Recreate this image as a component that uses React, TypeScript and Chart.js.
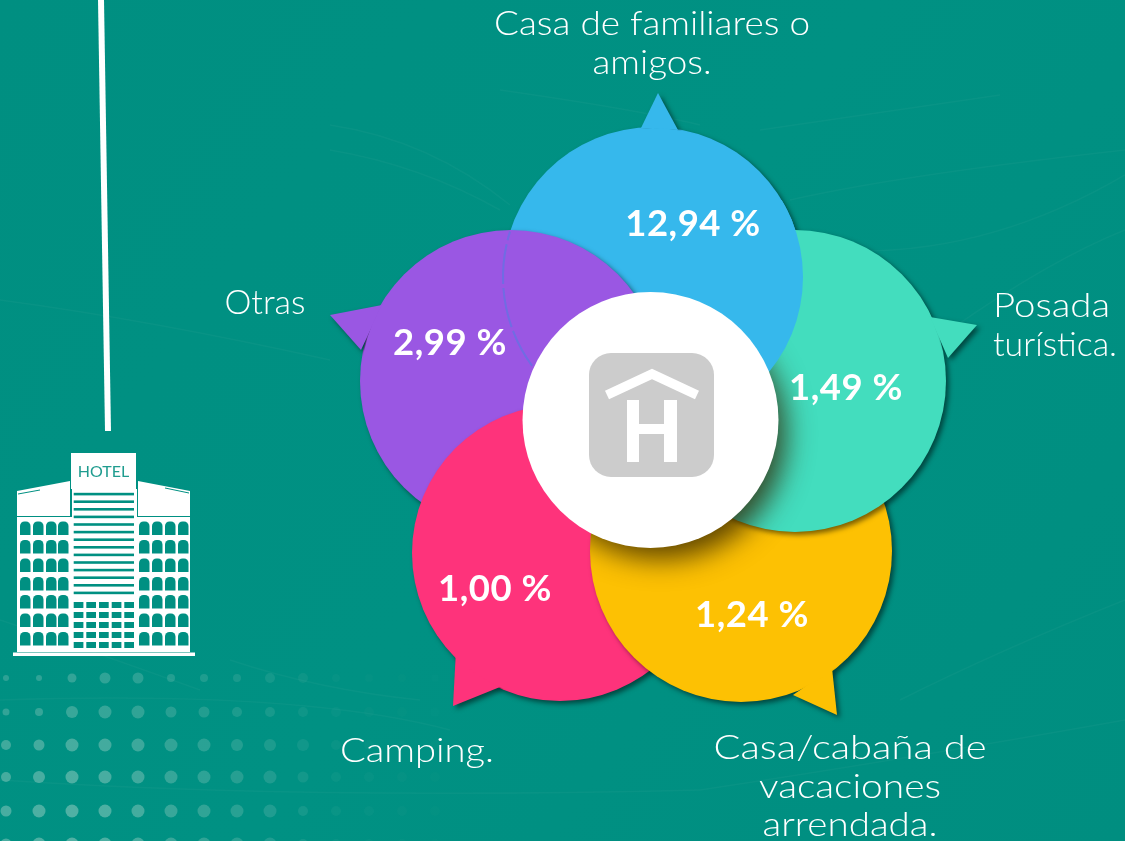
import React, { useEffect, useRef } from "react";
import Chart from "chart.js/auto";

// ---- data ----
const categories = ["Casa de familiares o amigos.", "Posada turística.", "Casa/cabaña de vacaciones arrendada.", "Camping.", "Otras"];
const values = [12.94, 1.49, 1.24, 1.0, 2.99];

// ---- layout of the petals, in scale units ----
const petalX = [653, 795, 741, 560, 511];
const petalY = [277, 381, 551, 553, 381];
const petalR = [150, 151, 151, 148, 151];
const petalColors = ["#36B8EC", "#43DDBE", "#FDC103", "#FE337B", "#9A57E3"];
const petalOrder = [5, 1, 2, 3, 4];
const tailPoints = [
  [[641, 128], [658, 93], [678, 130]],
  [[930, 317], [977, 325], [948, 358]],
  [[793, 695], [837, 715], [832, 668]],
  [[456, 650], [453, 706], [500, 687]],
  [[382, 305], [330, 315], [361, 350]],
];
const valueLabelX = [693, 846, 752, 495, 450];
const valueLabelY = [224, 388, 615, 589, 343];
const nameLines = [
  ["Casa de familiares o", "amigos."],
  ["Posada", "turística."],
  ["Casa/cabaña de", "vacaciones", "arrendada."],
  ["Camping."],
  ["Otras"],
];
const nameLineWidths = [[316, 119], [117, 124], [273, 182, 175], [154], [81]];
const nameX = [652, 993, 850, 417, 265];
const nameY = [35, 317, 759, 762, 314];
const nameAlign = ["center", "left", "center", "center", "center"];
const hubX = 650.5, hubY = 420, hubR = 128;

const dotRadius = [
  [3, 3, 4.5, 5.5, 5.5, 4, 4, 4, 5, 5, 4, 4, 4, 4],
  [3.5, 4, 6, 6.5, 6.5, 5.5, 5.5, 5, 5, 5, 5, 5, 5, 5],
  [5, 5.5, 6.5, 6.5, 6.5, 6.5, 6.5, 6, 6, 6, 5, 5, 5, 5],
  [5, 6, 6.5, 6.5, 6.5, 6.5, 6.5, 6.5, 6.5, 5.5, 5, 5, 5, 5],
  [5.5, 6.5, 6.5, 6.5, 6.5, 6.5, 6.5, 6.5, 6.5, 5, 5, 5, 5, 5],
  [5.5, 6.5, 6.5, 6.5, 6.5, 6.5, 6.5, 6.5, 6.5, 5, 5, 5, 5, 5],
];
const dotRowAlpha = [0.25, 0.28, 0.35, 0.38, 0.4, 0.4];
const dotColFade = [0.9, 0.95, 1, 0.95, 0.85, 0.7, 0.6, 0.5, 0.4, 0.25, 0.12, 0.08, 0.06, 0.04];
const dotRowY = [678, 712, 745, 777, 811, 844];

const BG = "#009082";
const NAME_FONT = '300 33px Lato, "Open Sans", sans-serif';
const VALUE_FONT = '700 36.5px Lato, "Open Sans", sans-serif';

function drawBackground(ctx: CanvasRenderingContext2D, w: number, h: number) {
  ctx.save();
  const g = ctx.createLinearGradient(0, 0, w, h);
  g.addColorStop(0, "#008F81");
  g.addColorStop(0.5, "#009183");
  g.addColorStop(1, "#008E80");
  ctx.fillStyle = g;
  ctx.fillRect(0, 0, w, h);
  // faint streaks
  ctx.strokeStyle = "rgba(255,255,255,0.03)";
  ctx.lineWidth = 1.5;
  const streaks = [
    [330, 125, 430, 140, 510, 205], [330, 150, 420, 165, 500, 210], [500, 90, 640, 110, 700, 125],
    [760, 130, 900, 110, 1000, 95], [790, 200, 900, 175, 1125, 150], [830, 250, 980, 260, 1125, 175],
    [950, 330, 1050, 260, 1125, 230], [0, 300, 150, 320, 330, 360], [0, 700, 300, 690, 450, 730],
    [0, 780, 300, 800, 700, 790], [230, 660, 320, 690, 420, 700], [700, 790, 900, 760, 1125, 720],
    [0, 620, 60, 640, 200, 690], [900, 700, 1000, 650, 1125, 600],
  ];
  streaks.forEach(([a, b, c, d, e, f]) => {
    ctx.beginPath();
    ctx.moveTo(a, b);
    ctx.quadraticCurveTo(c, d, e, f);
    ctx.stroke();
  });
  // dot texture, lower left
  dotRowY.forEach((y, row) => {
    dotColFade.forEach((fade, col) => {
      const x = 6 + col * 33;
      ctx.fillStyle = `rgba(200,225,215,${(dotRowAlpha[row] * fade).toFixed(3)})`;
      ctx.beginPath();
      ctx.arc(x, y, dotRadius[row][col], 0, Math.PI * 2);
      ctx.fill();
    });
  });
  ctx.restore();
}

function drawHotel(ctx: CanvasRenderingContext2D) {
  ctx.save();
  // hanging line
  ctx.strokeStyle = "#FFFFFF";
  ctx.lineWidth = 6;
  ctx.beginPath();
  ctx.moveTo(101, 0);
  ctx.lineTo(108, 431);
  ctx.stroke();

  ctx.fillStyle = "#FFFFFF";
  ctx.fillRect(71, 453, 65, 36);
  ctx.fillRect(72, 489, 65, 115);
  ctx.beginPath();
  ctx.moveTo(17, 491); ctx.lineTo(70, 481); ctx.lineTo(70, 516); ctx.lineTo(17, 516);
  ctx.closePath(); ctx.fill();
  ctx.beginPath();
  ctx.moveTo(138, 481); ctx.lineTo(190, 491); ctx.lineTo(190, 516); ctx.lineTo(138, 516);
  ctx.closePath(); ctx.fill();
  ctx.fillRect(17, 517, 173, 135);
  ctx.fillRect(13, 652.5, 182, 3.5);

  ctx.fillStyle = BG;
  // arched windows
  const colsL = [20, 33, 46, 58];
  const colsR = [139, 152, 165, 178];
  const rows = [521.5, 540, 558.5, 577, 595, 613.5, 632];
  [...colsL, ...colsR].forEach((x) => rows.forEach((y) => {
    ctx.beginPath();
    ctx.roundRect(x, y, 10.5, 13.5, [4.5, 4.5, 0, 0]);
    ctx.fill();
  }));
  // stripes
  for (let i = 0; i < 14; i++) ctx.fillRect(73.7, 492.8 + i * 7.6, 60.3, 2.6);
  // lower grid
  [73.7, 86.3, 99, 111.7, 124.3].forEach((x) => [602, 612, 622, 632, 642].forEach((y) => ctx.fillRect(x, y, 9.7, 6)));
  // roof lines
  ctx.strokeStyle = BG;
  ctx.lineWidth = 1;
  ctx.beginPath(); ctx.moveTo(18, 494); ctx.lineTo(40, 490); ctx.stroke();
  ctx.beginPath(); ctx.moveTo(165, 488); ctx.lineTo(189, 493); ctx.stroke();
  // sign
  ctx.fillStyle = "#1F9C8F";
  ctx.font = '400 16px Lato, sans-serif';
  ctx.textAlign = "center";
  ctx.textBaseline = "alphabetic";
  ctx.fillText("HOTEL", 103.5, 477);
  ctx.restore();
}

function drawHubIcon(ctx: CanvasRenderingContext2D) {
  ctx.save();
  ctx.fillStyle = "#CCCCCC";
  ctx.beginPath();
  ctx.roundRect(589, 353, 125, 124, 22);
  ctx.fill();
  ctx.strokeStyle = "#FFFFFF";
  ctx.lineWidth = 9.5;
  ctx.lineJoin = "miter";
  ctx.beginPath();
  ctx.moveTo(607, 395);
  ctx.lineTo(652, 374);
  ctx.lineTo(697, 395);
  ctx.stroke();
  ctx.fillStyle = "#FFFFFF";
  ctx.fillRect(627, 400, 12, 62);
  ctx.fillRect(664, 400, 13, 62);
  ctx.fillRect(627, 424, 50, 10);
  ctx.restore();
}

const SHADOW = { color: "rgba(0,0,0,0.5)", blur: 5, dx: 3, dy: 3 };

const petalPlugin = {
  id: "petals",
  beforeDraw(chart: any) {
    drawBackground(chart.ctx, chart.width, chart.height);
    drawHotel(chart.ctx);
  },
  beforeDatasetDraw(chart: any, args: any) {
    const ctx = chart.ctx;
    const i = args.index;
    ctx.save();
    if (i < categories.length) {
      ctx.shadowColor = SHADOW.color;
      ctx.shadowBlur = SHADOW.blur;
      ctx.shadowOffsetX = SHADOW.dx;
      ctx.shadowOffsetY = SHADOW.dy;
    }
  },
  afterDatasetDraw(chart: any, args: any) {
    const ctx = chart.ctx;
    const i = args.index;
    const sx = chart.scales.x, sy = chart.scales.y;
    if (i < categories.length) {
      // speech-bubble tail in the petal's colour
      ctx.fillStyle = petalColors[i];
      ctx.beginPath();
      tailPoints[i].forEach(([x, y], k) => {
        const px = sx.getPixelForValue(x), py = sy.getPixelForValue(y);
        if (k === 0) ctx.moveTo(px, py); else ctx.lineTo(px, py);
      });
      ctx.closePath();
      ctx.fill();
      // cover the tail's inner shadow
      ctx.shadowColor = "transparent";
      const el = args.meta.data[0];
      ctx.beginPath();
      ctx.arc(el.x, el.y, el.options.radius - 1, 0, Math.PI * 2);
      ctx.fill();
    }
    ctx.restore();

    if (i === 4) {
      // the faint seam of the blue petal seen through the purple one
      const blue = chart.getDatasetMeta(0).data[0];
      ctx.save();
      ctx.strokeStyle = "rgba(70,130,228,0.5)";
      ctx.lineWidth = 2;
      ctx.setLineDash([40, 4]);
      ctx.beginPath();
      ctx.arc(blue.x, blue.y, blue.options.radius, (143.7 * Math.PI) / 180, (197.6 * Math.PI) / 180);
      ctx.stroke();
      ctx.restore();
    }
    if (i === 1) {
      const green = args.meta.data[0];
      const yellow = chart.getDatasetMeta(2).data[0];
      const hub = chart.getDatasetMeta(categories.length).data[0];
      const blue = chart.getDatasetMeta(0).data[0];
      // the hub's soft shadow falls only on the green and yellow petals
      ctx.save();
      ctx.beginPath();
      ctx.arc(green.x, green.y, green.options.radius, 0, Math.PI * 2);
      ctx.moveTo(yellow.x + yellow.options.radius, yellow.y);
      ctx.arc(yellow.x, yellow.y, yellow.options.radius, 0, Math.PI * 2);
      ctx.clip();
      ctx.shadowColor = "rgba(50,35,0,0.8)";
      ctx.shadowBlur = 28;
      ctx.shadowOffsetX = 10;
      ctx.shadowOffsetY = 14;
      ctx.fillStyle = "#FFFFFF";
      ctx.beginPath();
      ctx.arc(hub.x, hub.y, hubR - 3, 0, Math.PI * 2);
      ctx.fill();
      ctx.restore();
      // pinwheel: the blue petal lies over the green one
      ctx.save();
      ctx.beginPath();
      ctx.rect(640, 200, 300, 260);
      ctx.clip();
      ctx.fillStyle = petalColors[0];
      ctx.beginPath();
      ctx.arc(blue.x, blue.y, blue.options.radius, 0, Math.PI * 2);
      ctx.fill();
      ctx.restore();
    }
  },
  afterDatasetsDraw(chart: any) {
    const ctx = chart.ctx;
    const sx = chart.scales.x, sy = chart.scales.y;
    drawHubIcon(ctx);
    ctx.save();
    ctx.fillStyle = "#FFFFFF";
    ctx.textBaseline = "middle";
    ctx.textAlign = "center";
    ctx.font = VALUE_FONT;
    (ctx as any).letterSpacing = "0.5px";
    values.forEach((v, i) => {
      const s = v.toFixed(2).replace(".", ",") + " %";
      ctx.fillText(s, sx.getPixelForValue(valueLabelX[i]), sy.getPixelForValue(valueLabelY[i]));
    });
    (ctx as any).letterSpacing = "0px";
    ctx.textBaseline = "alphabetic";
    ctx.font = NAME_FONT;
    nameLines.forEach((lines, i) => {
      ctx.textAlign = nameAlign[i] as CanvasTextAlign;
      lines.forEach((line, k) => {
        // the original typeface is wider: stretch each line to its measured width
        const stretch = nameLineWidths[i][k] / ctx.measureText(line).width;
        ctx.save();
        ctx.translate(sx.getPixelForValue(nameX[i]), sy.getPixelForValue(nameY[i] + k * 38.5));
        ctx.scale(stretch, 1);
        ctx.fillText(line, 0, 0);
        ctx.restore();
      });
    });
    ctx.restore();
  },
};

export default function App() {
  const ref = useRef<HTMLCanvasElement>(null);
  useEffect(() => {
    if (!ref.current) return;
    const datasets: any[] = categories.map((c, i) => ({
      label: c,
      data: [{ x: petalX[i], y: petalY[i], r: petalR[i], v: values[i] }],
      backgroundColor: petalColors[i],
      borderWidth: 0,
      order: petalOrder[i],
      clip: false,
    }));
    datasets.push({
      label: "Hub",
      data: [{ x: hubX, y: hubY, r: hubR }],
      backgroundColor: "#FFFFFF",
      borderWidth: 0,
      order: 0,
      clip: false,
    });
    const chart = new Chart(ref.current, {
      type: "bubble",
      data: { datasets },
      plugins: [petalPlugin],
      options: {
        responsive: false,
        animation: false,
        layout: { padding: 0, autoPadding: false },
        events: [],
        plugins: { legend: { display: false }, tooltip: { enabled: false }, title: { display: false } },
        scales: {
          x: { type: "linear", min: 0, max: 1125, display: false },
          y: { type: "linear", min: 0, max: 841, reverse: true, display: false },
        },
      },
    } as any);
    return () => chart.destroy();
  }, []);
  return (
    <div style={{ position: "absolute", left: 0, top: 0, width: 1125, height: 841, overflow: "hidden" }}>
      <canvas ref={ref} width={1125} height={841} style={{ display: "block" }} />
    </div>
  );
}
